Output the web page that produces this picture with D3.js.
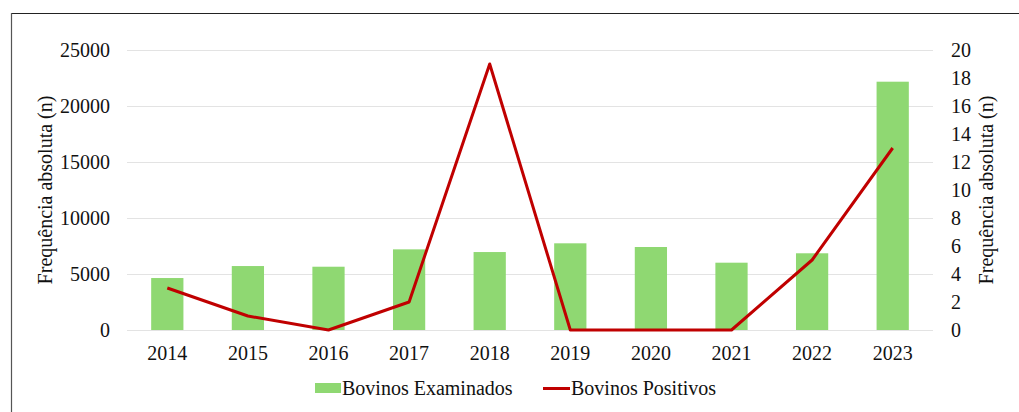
<!DOCTYPE html>
<html>
<head>
<meta charset="utf-8">
<script src="https://cdn.jsdelivr.net/npm/d3@7"></script>
<style>
  body { margin: 0; background: #fff; }
</style>
</head>
<body>
<svg width="1019" height="412" font-family="Liberation Serif, serif"></svg>
<script>
var years = ['2014', '2015', '2016', '2017', '2018', '2019', '2020', '2021', '2022', '2023'];
var examinados = [4640, 5710, 5650, 7200, 6960, 7740, 7410, 6010, 6850, 22170];
var positivos = [3, 1, 0, 2, 19, 0, 0, 0, 5, 13];
var leftTicks = [0, 5000, 10000, 15000, 20000, 25000];
var rightTicks = [0, 2, 4, 6, 8, 10, 12, 14, 16, 18, 20];

var FONT = 'Liberation Serif, serif';
var svg = d3.select('svg');

// frame lines (only top and left are visible in the crop)
svg.append('line').attr('x1', 11).attr('x2', 1019).attr('y1', 13.5).attr('y2', 13.5)
    .attr('stroke', '#222').attr('stroke-width', 1.2);
svg.append('line').attr('x1', 11.5).attr('x2', 11.5).attr('y1', 13).attr('y2', 412)
    .attr('stroke', '#555').attr('stroke-width', 1.2);

var plot = {l: 127, r: 933, t: 50, b: 330};

var x = d3.scaleBand().domain(years).range([plot.l, plot.r]).paddingInner(0.6).paddingOuter(0.3);
var xc = function(d) { return x(d) + x.bandwidth() / 2; };
var yL = d3.scaleLinear().domain([0, 25000]).range([plot.b, plot.t]);
var yR = d3.scaleLinear().domain([0, 20]).range([plot.b, plot.t]);

// gridlines
svg.append('g').selectAll('line').data(leftTicks).enter().append('line')
    .attr('x1', plot.l).attr('x2', plot.r)
    .attr('y1', d => Math.round(yL(d)) + 0.5).attr('y2', d => Math.round(yL(d)) + 0.5)
    .attr('stroke', '#e3e3e3').attr('stroke-width', 1.2);

// bars
svg.append('g').selectAll('rect').data(examinados).enter().append('rect')
    .attr('x', (d, i) => x(years[i]))
    .attr('width', x.bandwidth())
    .attr('y', d => yL(d))
    .attr('height', d => yL(0) - yL(d))
    .attr('fill', '#8fd872');

// line
var line = d3.line().x((d, i) => xc(years[i])).y(d => yR(d));
svg.append('path').attr('d', line(positivos))
    .attr('fill', 'none').attr('stroke', '#c00000').attr('stroke-width', 3)
    .attr('stroke-linejoin', 'round');

function styleAxis(g) {
    g.attr('font-family', FONT).attr('font-size', 20);
    g.select('.domain').remove();
    g.selectAll('text').attr('fill', '#111');
}

// left axis
var leftAxis = d3.axisLeft(yL).tickValues(leftTicks).tickSize(0).tickPadding(17).tickFormat(d3.format('d'));
svg.append('g').attr('transform', 'translate(' + plot.l + ',0)').call(leftAxis).call(styleAxis);

// right axis
var rightAxis = d3.axisRight(yR).tickValues(rightTicks).tickSize(0).tickPadding(18);
svg.append('g').attr('transform', 'translate(' + plot.r + ',0)').call(rightAxis).call(styleAxis);

// x axis
var xAxis = d3.axisBottom(x).tickSize(0).tickPadding(16);
svg.append('g').attr('transform', 'translate(0,' + plot.b + ')').call(xAxis).call(styleAxis);

// axis titles
svg.append('text').attr('transform', 'translate(52,190) rotate(-90)')
    .attr('text-anchor', 'middle').attr('font-size', 20).attr('fill', '#111').text('Frequência absoluta (n)');
svg.append('text').attr('transform', 'translate(993,190) rotate(-90)')
    .attr('text-anchor', 'middle').attr('font-size', 20).attr('fill', '#111').text('Frequência absoluta (n)');

// legend
var leg = svg.append('g').attr('font-size', 20).attr('fill', '#111');
leg.append('rect').attr('x', 315).attr('y', 383).attr('width', 26).attr('height', 10).attr('fill', '#8fd872');
leg.append('text').attr('x', 342).attr('y', 395).text('Bovinos Examinados');
leg.append('line').attr('x1', 543).attr('x2', 570).attr('y1', 388.5).attr('y2', 388.5)
    .attr('stroke', '#c00000').attr('stroke-width', 3);
leg.append('text').attr('x', 571).attr('y', 395).text('Bovinos Positivos');
</script>
</body>
</html>
